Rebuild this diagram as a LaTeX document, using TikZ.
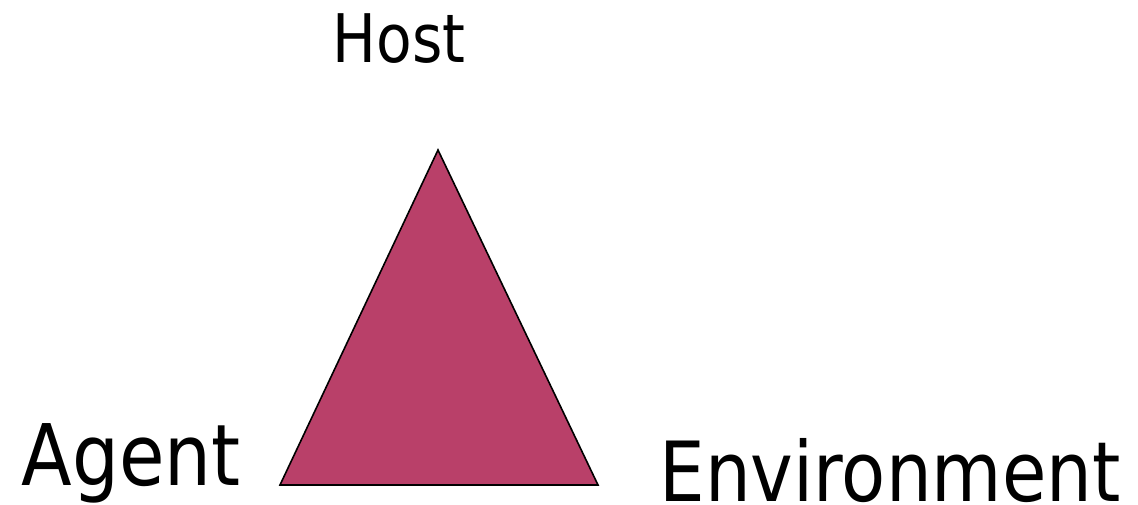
\documentclass[tikz,border=0pt]{standalone}
\usepackage{fontspec}
\setmainfont[FakeStretch=0.87]{DejaVu Sans}
\definecolor{tri}{HTML}{B94069}
\begin{document}
\begin{tikzpicture}[x=1pt,y=-1pt,
  lbl/.style={anchor=base,inner sep=0pt,text=black}]
\useasboundingbox (0,0) rectangle (1138,504);
\coordinate (apex) at (438,150);
\coordinate (bl) at (280,485);
\coordinate (br) at (598,485);
\filldraw[fill=tri,draw=black,line width=1.6pt,line join=miter] (apex) -- (bl) -- (br) -- cycle;
\node[lbl,font=\fontsize{67}{70}\selectfont] (host) at (399,62) {Host};
\node[lbl,font=\fontsize{85}{88}\selectfont] (agent) at (131,485) {Agent};
\node[lbl,font=\fontsize{83}{88}\selectfont] (env) at (890,501) {Environment};
\end{tikzpicture}
\end{document}
